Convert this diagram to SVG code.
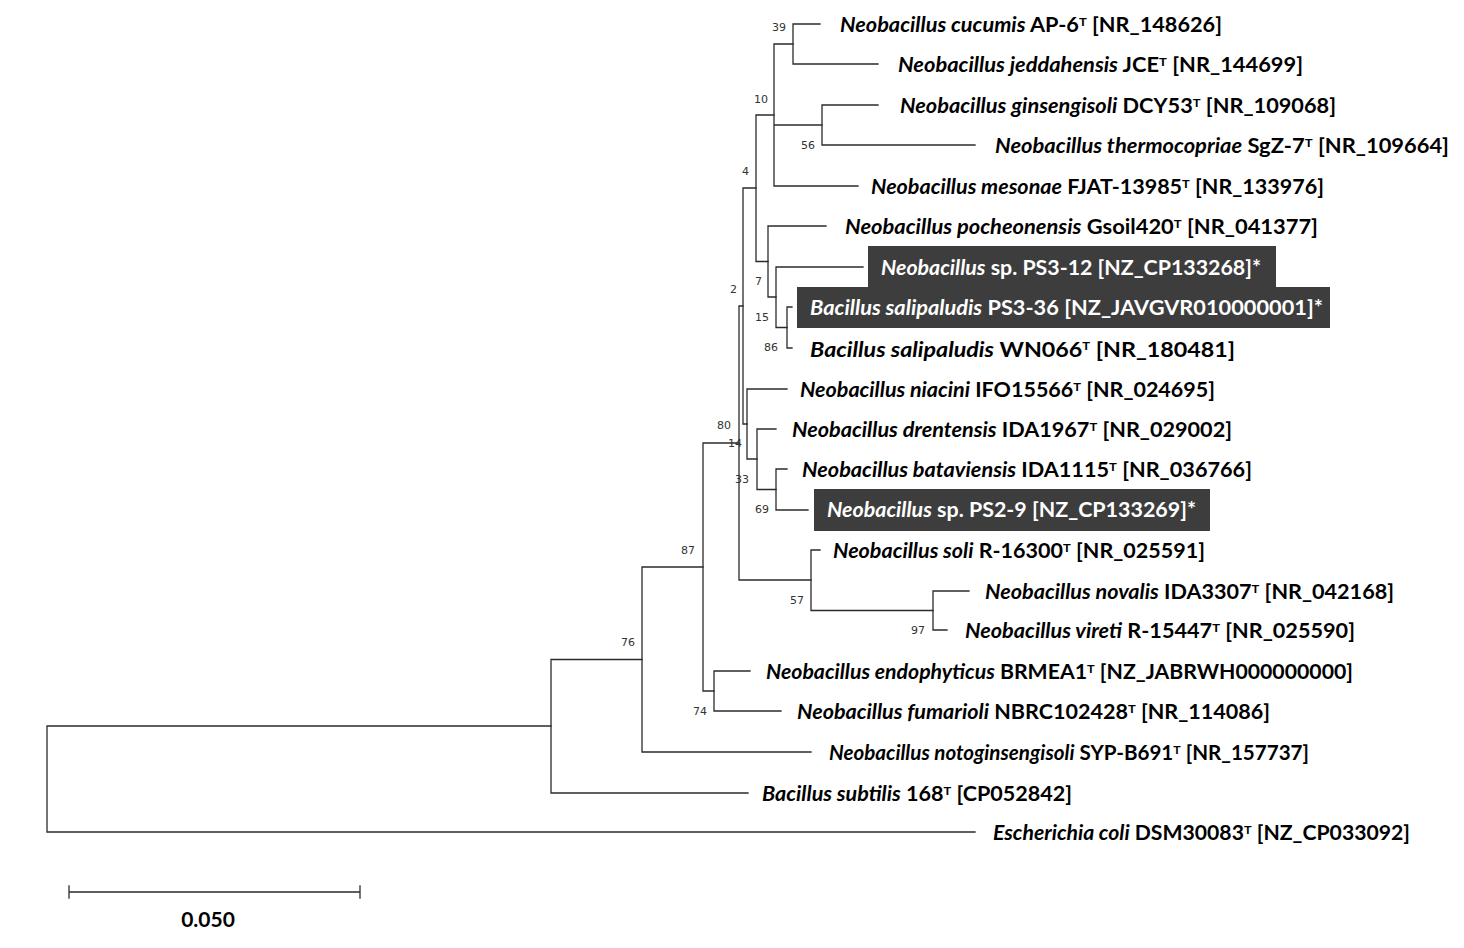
<svg xmlns="http://www.w3.org/2000/svg" width="1464" height="948" viewBox="0 0 1464 948">
<style>
  .br { fill: none; stroke: #2b2b2b; stroke-width: 1.3; stroke-linecap: square; }
  .lbl { font-family: "Lato", "Liberation Sans", sans-serif; font-weight: 700; font-size: 20px; fill: #000; }
  .inv { fill: #fff; }
  .big { font-size: 21.5px; }
  .it { font-style: italic; }
  .sup { font-size: 12px; }
  .bs { font-family: "DejaVu Sans", "Liberation Sans", sans-serif; font-size: 11px; fill: #333; text-anchor: end; }
  .box { fill: #3d3d3d; }
  .scale { font-family: "Lato", "Liberation Sans", sans-serif; font-weight: 700; font-size: 21px; fill: #000; text-anchor: middle; }
</style>
<rect width="1464" height="948" fill="#fff"/>

<g id="connectors">
  <path class="br" d="M47 726 V832 M47 726 H551 M47 832 H975"/>
  <path class="br" d="M551 659.5 V793 M551 659.5 H642 M551 793 H748"/>
  <path class="br" d="M642 567 V752 M642 567 H703 M642 752 H811"/>
  <path class="br" d="M703 443 V691 M703 443 H739 M703 691 H714"/>
  <path class="br" d="M714 671 V711 M714 671 H750 M714 711 H781"/>
  <path class="br" d="M739 306 V580 M739 306 H743 M739 580 H811"/>
  <path class="br" d="M811 550 V610.5 M811 550 H820 M811 610.5 H933"/>
  <path class="br" d="M933 591 V630 M933 591 H969 M933 630 H947"/>
  <path class="br" d="M743 188 V424 M743 188 H756 M743 424 H747"/>
  <path class="br" d="M747 389 V459 M747 389 H787 M747 459 H757"/>
  <path class="br" d="M757 429 V489.5 M757 429 H776 M757 489.5 H776"/>
  <path class="br" d="M776 469 V510 M776 469 H787 M776 510 H808"/>
  <path class="br" d="M756 115 V261.5 M756 115 H774 M756 261.5 H768"/>
  <path class="br" d="M774 44 V186 M774 44 H793 M774 125 H822 M774 186 H858"/>
  <path class="br" d="M793 24 V64 M793 24 H820 M793 64 H878"/>
  <path class="br" d="M822 105 V145 M822 105 H878 M822 145 H975"/>
  <path class="br" d="M768 226 V297 M768 226 H826 M768 297 H776"/>
  <path class="br" d="M776 267 V327.5 M776 267 H863 M776 327.5 H787"/>
  <path class="br" d="M787 307 V348 M787 307 H792 M787 348 H792"/>
</g>

<g id="bootstrap">
  <text class="bs" x="786" y="31">39</text>
  <text class="bs" x="768" y="103">10</text>
  <text class="bs" x="815" y="149">56</text>
  <text class="bs" x="749" y="175">4</text>
  <text class="bs" x="762" y="285">7</text>
  <text class="bs" x="737" y="293">2</text>
  <text class="bs" x="769" y="321">15</text>
  <text class="bs" x="778" y="351">86</text>
  <text class="bs" x="731" y="429">80</text>
  <text class="bs" x="742" y="447">14</text>
  <text class="bs" x="749" y="483">33</text>
  <text class="bs" x="769" y="513">69</text>
  <text class="bs" x="695" y="554">87</text>
  <text class="bs" x="804" y="604">57</text>
  <text class="bs" x="925" y="634">97</text>
  <text class="bs" x="635" y="646">76</text>
  <text class="bs" x="707" y="715">74</text>
</g>

<g id="t-cucumis"><text class="lbl" x="840" y="31.5" textLength="382" lengthAdjust="spacingAndGlyphs"><tspan class="it">Neobacillus cucumis</tspan> AP-6<tspan class="sup" dy="-6">T</tspan><tspan dy="6"> [NR_148626]</tspan></text></g>
<g id="t-jeddahensis"><text class="lbl" x="898" y="71.5" textLength="405" lengthAdjust="spacingAndGlyphs"><tspan class="it">Neobacillus jeddahensis</tspan> JCE<tspan class="sup" dy="-6">T</tspan><tspan dy="6"> [NR_144699]</tspan></text></g>
<g id="t-ginsengisoli"><text class="lbl" x="900" y="112.5" textLength="436" lengthAdjust="spacingAndGlyphs"><tspan class="it">Neobacillus ginsengisoli</tspan> DCY53<tspan class="sup" dy="-6">T</tspan><tspan dy="6"> [NR_109068]</tspan></text></g>
<g id="t-thermocopriae"><text class="lbl" x="995" y="152.5" textLength="454" lengthAdjust="spacingAndGlyphs"><tspan class="it">Neobacillus thermocopriae</tspan> SgZ-7<tspan class="sup" dy="-6">T</tspan><tspan dy="6"> [NR_109664]</tspan></text></g>
<g id="t-mesonae"><text class="lbl" x="871" y="193.5" textLength="453" lengthAdjust="spacingAndGlyphs"><tspan class="it">Neobacillus mesonae</tspan> FJAT-13985<tspan class="sup" dy="-6">T</tspan><tspan dy="6"> [NR_133976]</tspan></text></g>
<g id="t-pocheonensis"><text class="lbl" x="845" y="233.5" textLength="473" lengthAdjust="spacingAndGlyphs"><tspan class="it">Neobacillus pocheonensis</tspan> Gsoil420<tspan class="sup" dy="-6">T</tspan><tspan dy="6"> [NR_041377]</tspan></text></g>
<g id="t-ps3-12"><rect class="box" x="868" y="246" width="408" height="41"/><text class="lbl inv" x="881" y="274.5" textLength="380" lengthAdjust="spacingAndGlyphs"><tspan class="it">Neobacillus</tspan> sp. PS3-12 [NZ_CP133268]*</text></g>
<g id="t-ps3-36"><rect class="box" x="797" y="287" width="533" height="41"/><text class="lbl inv" x="810" y="314.5" textLength="513" lengthAdjust="spacingAndGlyphs"><tspan class="it">Bacillus salipaludis</tspan> PS3-36 [NZ_JAVGVR010000001]*</text></g>
<g id="t-wn066"><text class="lbl big" x="810" y="356.5" textLength="425" lengthAdjust="spacingAndGlyphs"><tspan class="it">Bacillus salipaludis</tspan> WN066<tspan class="sup" dy="-6.5">T</tspan><tspan dy="6.5"> [NR_180481]</tspan></text></g>
<g id="t-niacini"><text class="lbl" x="800" y="396.5" textLength="415" lengthAdjust="spacingAndGlyphs"><tspan class="it">Neobacillus niacini</tspan> IFO15566<tspan class="sup" dy="-6">T</tspan><tspan dy="6"> [NR_024695]</tspan></text></g>
<g id="t-drentensis"><text class="lbl" x="792" y="436.5" textLength="440" lengthAdjust="spacingAndGlyphs"><tspan class="it">Neobacillus drentensis</tspan> IDA1967<tspan class="sup" dy="-6">T</tspan><tspan dy="6"> [NR_029002]</tspan></text></g>
<g id="t-bataviensis"><text class="lbl" x="802" y="476.5" textLength="450" lengthAdjust="spacingAndGlyphs"><tspan class="it">Neobacillus bataviensis</tspan> IDA1115<tspan class="sup" dy="-6">T</tspan><tspan dy="6"> [NR_036766]</tspan></text></g>
<g id="t-ps2-9"><rect class="box" x="814" y="489" width="396" height="42"/><text class="lbl inv" x="827" y="517" textLength="369" lengthAdjust="spacingAndGlyphs"><tspan class="it">Neobacillus</tspan> sp. PS2-9 [NZ_CP133269]*</text></g>
<g id="t-soli"><text class="lbl" x="833" y="557.5" textLength="372" lengthAdjust="spacingAndGlyphs"><tspan class="it">Neobacillus soli</tspan> R-16300<tspan class="sup" dy="-6">T</tspan><tspan dy="6"> [NR_025591]</tspan></text></g>
<g id="t-novalis"><text class="lbl" x="985" y="598.5" textLength="409" lengthAdjust="spacingAndGlyphs"><tspan class="it">Neobacillus novalis</tspan> IDA3307<tspan class="sup" dy="-6">T</tspan><tspan dy="6"> [NR_042168]</tspan></text></g>
<g id="t-vireti"><text class="lbl" x="965" y="637.5" textLength="390" lengthAdjust="spacingAndGlyphs"><tspan class="it">Neobacillus vireti</tspan> R-15447<tspan class="sup" dy="-6">T</tspan><tspan dy="6"> [NR_025590]</tspan></text></g>
<g id="t-endophyticus"><text class="lbl" x="766" y="678.5" textLength="587" lengthAdjust="spacingAndGlyphs"><tspan class="it">Neobacillus endophyticus</tspan> BRMEA1<tspan class="sup" dy="-6">T</tspan><tspan dy="6"> [NZ_JABRWH000000000]</tspan></text></g>
<g id="t-fumarioli"><text class="lbl" x="797" y="718.5" textLength="473" lengthAdjust="spacingAndGlyphs"><tspan class="it">Neobacillus fumarioli</tspan> NBRC102428<tspan class="sup" dy="-6">T</tspan><tspan dy="6"> [NR_114086]</tspan></text></g>
<g id="t-notoginsengisoli"><text class="lbl" x="829" y="759.5" textLength="480" lengthAdjust="spacingAndGlyphs"><tspan class="it">Neobacillus notoginsengisoli</tspan> SYP-B691<tspan class="sup" dy="-6">T</tspan><tspan dy="6"> [NR_157737]</tspan></text></g>
<g id="t-subtilis"><text class="lbl" x="762" y="800.5" textLength="310" lengthAdjust="spacingAndGlyphs"><tspan class="it">Bacillus subtilis</tspan> 168<tspan class="sup" dy="-6">T</tspan><tspan dy="6"> [CP052842]</tspan></text></g>
<g id="t-ecoli"><text class="lbl" x="993" y="839.5" textLength="417" lengthAdjust="spacingAndGlyphs"><tspan class="it">Escherichia coli</tspan> DSM30083<tspan class="sup" dy="-6">T</tspan><tspan dy="6"> [NZ_CP033092]</tspan></text></g>

<g id="scale-bar">
  <path class="br" d="M69 892 H360 M69 886 V898 M360 886 V898"/>
  <text class="scale" x="208" y="927">0.050</text>
</g>
</svg>
